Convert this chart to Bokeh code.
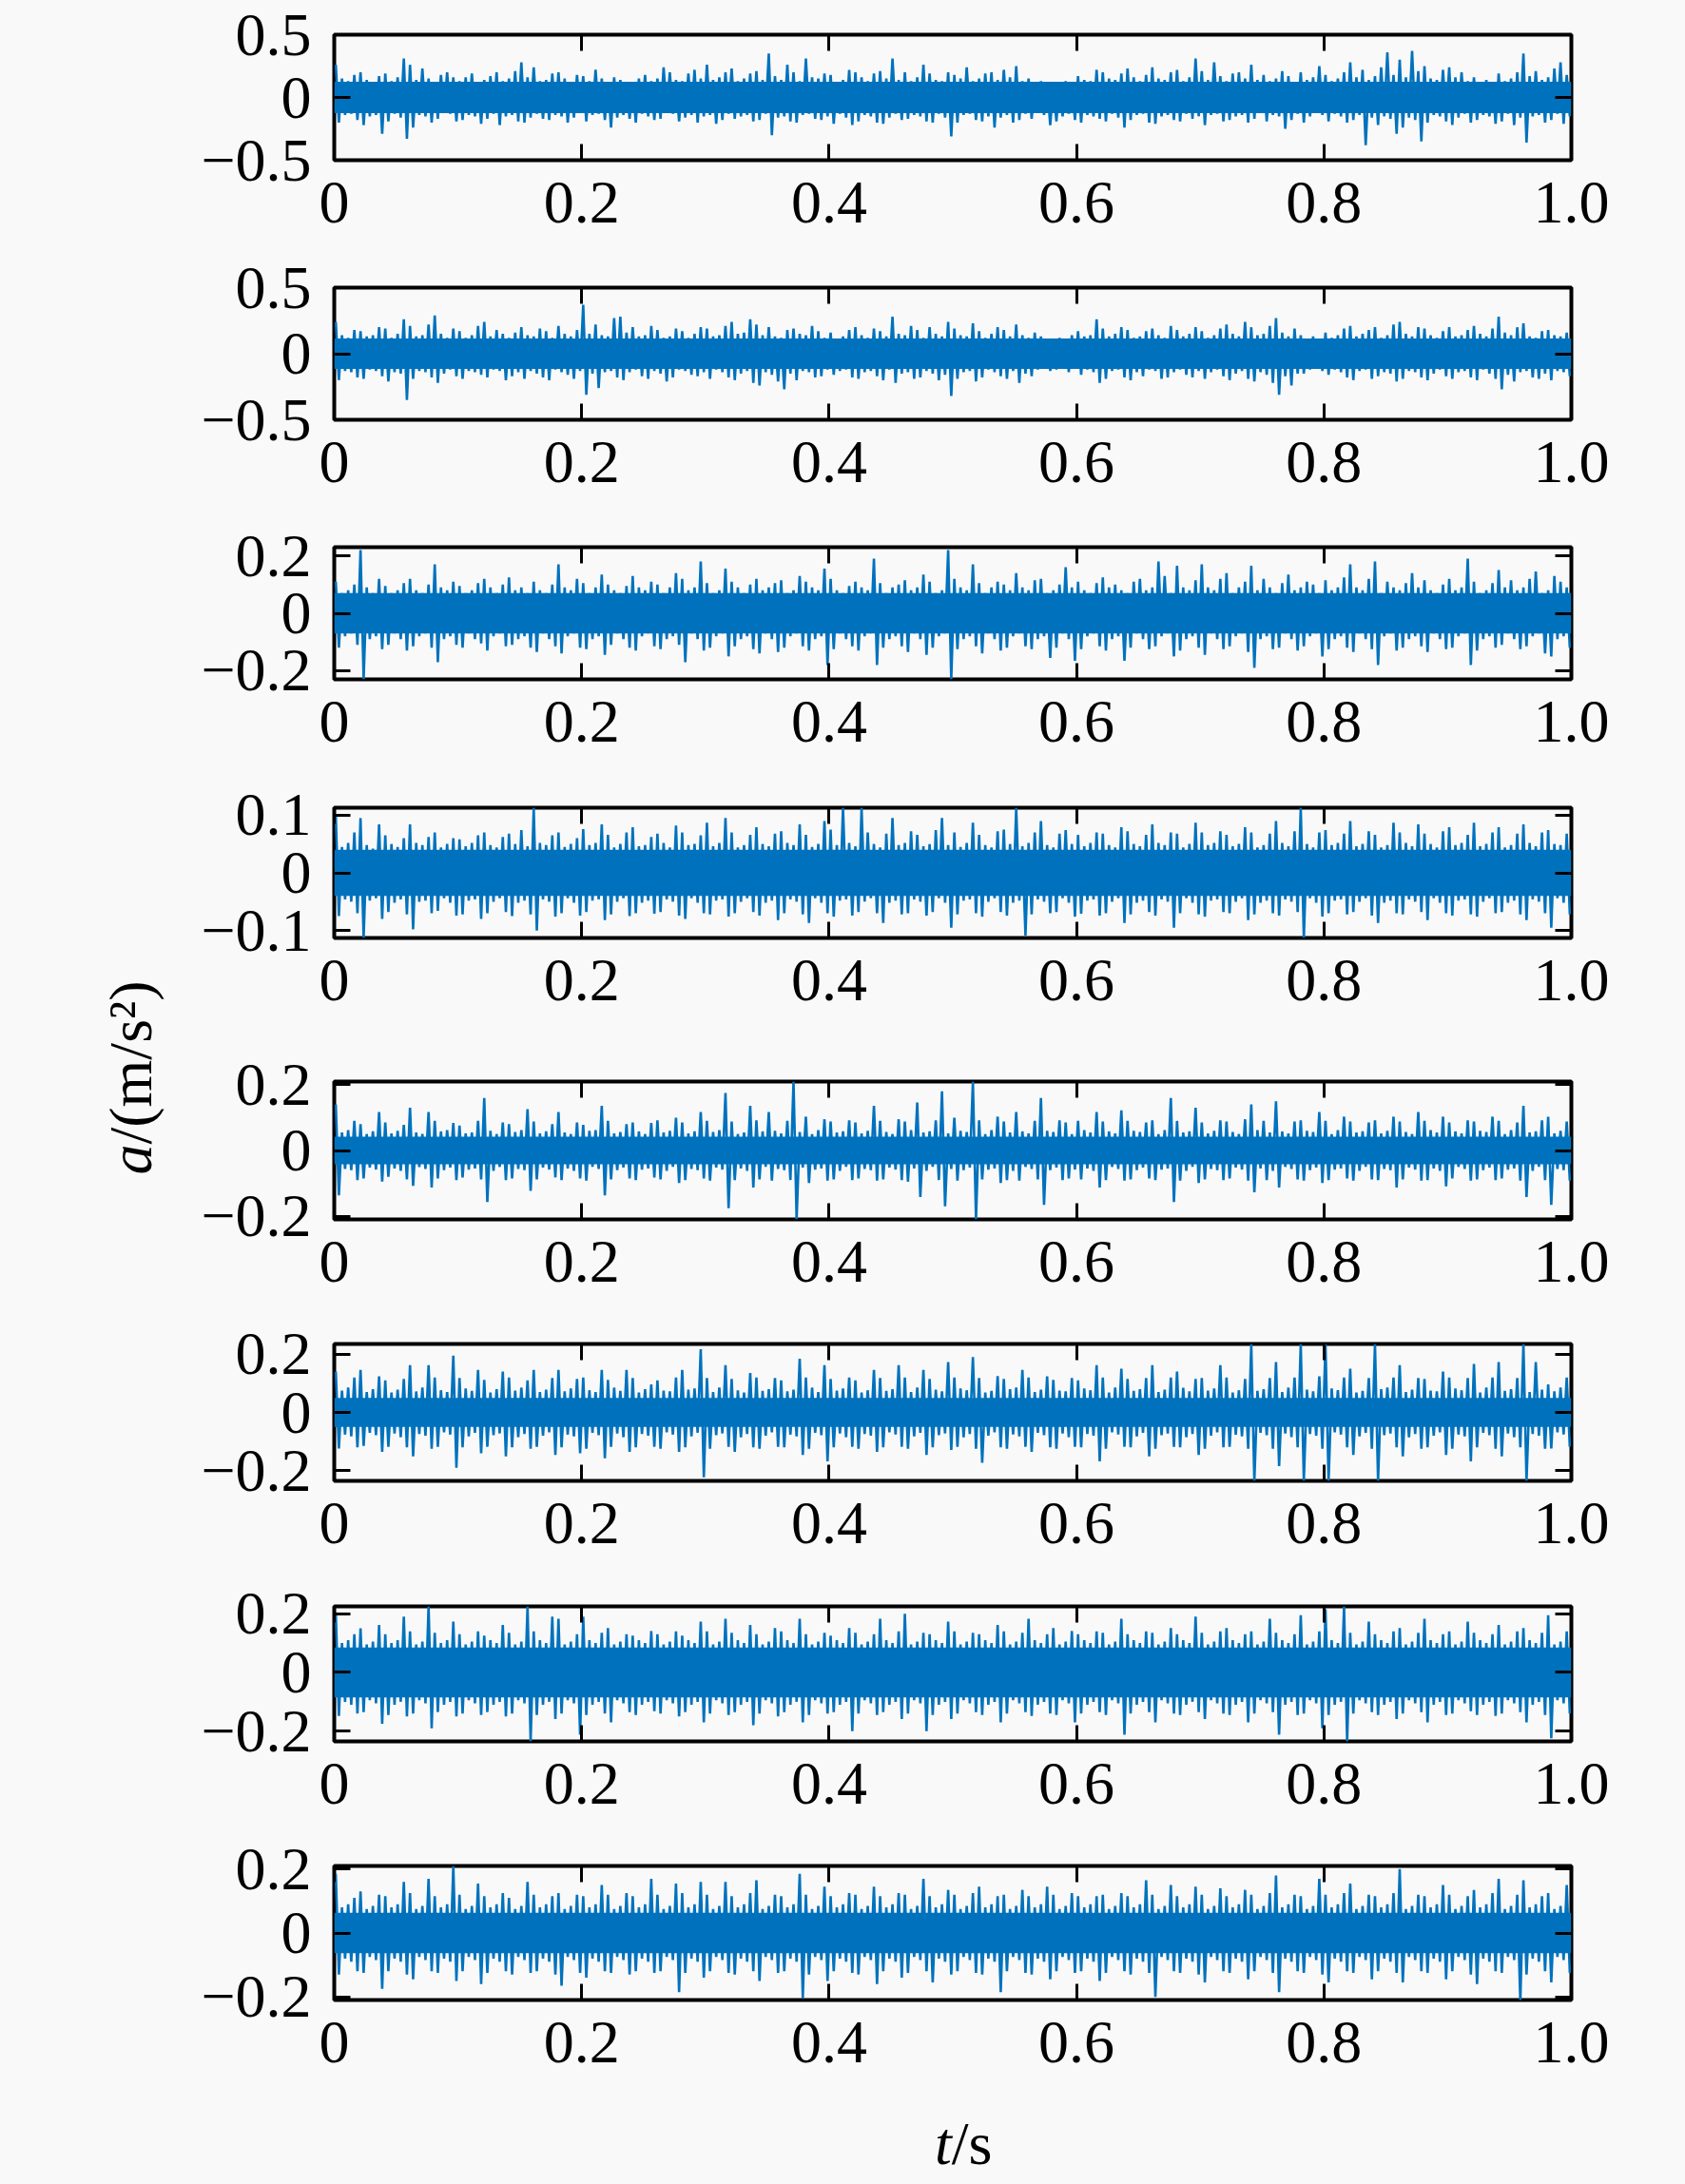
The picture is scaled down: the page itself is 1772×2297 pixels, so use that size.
import numpy as np
from bokeh.plotting import figure
from bokeh.layouts import row, column
from bokeh.models import Range1d, FixedTicker, LinearAxis, CustomJSTickFormatter
from bokeh.core.properties import value
from bokeh.embed import file_html
from bokeh.resources import INLINE

# ---------------- data ----------------
# Each signal: per-bin maximum (hi) and minimum (lo) over 200 bins of 0.005 s,
# plus the half-width of the dense, solid central band (core).
x_ticks = [0, 0.2, 0.4, 0.6, 0.8, 1.0]

hi1 = [0.26, 0.15, 0.13, 0.18, 0.20, 0.14, 0.12, 0.17, 0.19, 0.13,
       0.16, 0.31, 0.26, 0.14, 0.23, 0.15, 0.12, 0.18, 0.20, 0.16,
       0.13, 0.16, 0.19, 0.12, 0.14, 0.17, 0.20, 0.13, 0.15, 0.21,
       0.28, 0.16, 0.24, 0.13, 0.14, 0.19, 0.20, 0.15, 0.12, 0.18,
       0.17, 0.13, 0.22, 0.15, 0.12, 0.16, 0.14, 0.12, 0.11, 0.15,
       0.18, 0.13, 0.15, 0.24, 0.20, 0.14, 0.13, 0.19, 0.22, 0.15,
       0.26, 0.14, 0.16, 0.20, 0.23, 0.13, 0.15, 0.19, 0.21, 0.14,
       0.35, 0.17, 0.14, 0.26, 0.20, 0.13, 0.31, 0.16, 0.15, 0.19,
       0.18, 0.12, 0.14, 0.22, 0.20, 0.16, 0.13, 0.19, 0.21, 0.15,
       0.31, 0.14, 0.20, 0.13, 0.16, 0.26, 0.19, 0.14, 0.13, 0.20,
       0.18, 0.15, 0.24, 0.13, 0.15, 0.19, 0.20, 0.14, 0.22, 0.16,
       0.25, 0.13, 0.15, 0.11, 0.13, 0.11, 0.10, 0.12, 0.13, 0.11,
       0.17, 0.14, 0.13, 0.22, 0.20, 0.15, 0.14, 0.19, 0.23, 0.16,
       0.13, 0.18, 0.24, 0.15, 0.14, 0.20, 0.22, 0.13, 0.16, 0.31,
       0.21, 0.14, 0.28, 0.17, 0.13, 0.19, 0.20, 0.15, 0.26, 0.14,
       0.18, 0.13, 0.15, 0.21, 0.17, 0.12, 0.20, 0.14, 0.16, 0.25,
       0.18, 0.13, 0.15, 0.20, 0.28, 0.16, 0.22, 0.14, 0.17, 0.24,
       0.36, 0.18, 0.30, 0.16, 0.37, 0.21, 0.25, 0.15, 0.14, 0.22,
       0.24, 0.16, 0.20, 0.13, 0.16, 0.12, 0.14, 0.11, 0.19, 0.13,
       0.15, 0.20, 0.35, 0.17, 0.21, 0.14, 0.16, 0.23, 0.28, 0.18]
lo1 = [-0.20, -0.14, -0.13, -0.18, -0.22, -0.15, -0.14, -0.29, -0.19, -0.13,
       -0.16, -0.33, -0.24, -0.14, -0.15, -0.20, -0.17, -0.12, -0.13, -0.19,
       -0.18, -0.14, -0.15, -0.21, -0.17, -0.13, -0.22, -0.15, -0.14, -0.19,
       -0.20, -0.16, -0.13, -0.17, -0.18, -0.14, -0.15, -0.20, -0.16, -0.12,
       -0.19, -0.14, -0.13, -0.18, -0.24, -0.16, -0.14, -0.17, -0.20, -0.13,
       -0.15, -0.18, -0.17, -0.12, -0.13, -0.19, -0.16, -0.14, -0.20, -0.15,
       -0.14, -0.21, -0.18, -0.13, -0.17, -0.15, -0.14, -0.19, -0.18, -0.13,
       -0.30, -0.16, -0.15, -0.19, -0.20, -0.14, -0.13, -0.17, -0.18, -0.15,
       -0.21, -0.13, -0.16, -0.22, -0.19, -0.14, -0.15, -0.20, -0.21, -0.16,
       -0.13, -0.18, -0.17, -0.14, -0.15, -0.19, -0.20, -0.13, -0.16, -0.31,
       -0.20, -0.14, -0.13, -0.18, -0.19, -0.15, -0.24, -0.16, -0.14, -0.20,
       -0.18, -0.13, -0.17, -0.12, -0.14, -0.22, -0.19, -0.15, -0.13, -0.18,
       -0.20, -0.14, -0.15, -0.17, -0.19, -0.13, -0.16, -0.24, -0.18, -0.14,
       -0.13, -0.20, -0.21, -0.15, -0.14, -0.18, -0.19, -0.13, -0.17, -0.15,
       -0.22, -0.14, -0.13, -0.19, -0.18, -0.15, -0.14, -0.20, -0.17, -0.12,
       -0.19, -0.14, -0.15, -0.25, -0.18, -0.13, -0.20, -0.15, -0.12, -0.14,
       -0.19, -0.13, -0.15, -0.20, -0.18, -0.14, -0.38, -0.16, -0.22, -0.15,
       -0.17, -0.29, -0.24, -0.16, -0.18, -0.35, -0.20, -0.14, -0.15, -0.19,
       -0.22, -0.16, -0.13, -0.20, -0.18, -0.14, -0.15, -0.21, -0.19, -0.13,
       -0.22, -0.16, -0.36, -0.15, -0.14, -0.20, -0.18, -0.13, -0.21, -0.15]

hi2 = [0.24, 0.14, 0.12, 0.18, 0.17, 0.13, 0.14, 0.20, 0.19, 0.12,
       0.15, 0.26, 0.21, 0.13, 0.14, 0.22, 0.29, 0.15, 0.12, 0.19,
       0.17, 0.12, 0.14, 0.21, 0.24, 0.13, 0.18, 0.15, 0.12, 0.16,
       0.20, 0.14, 0.13, 0.19, 0.17, 0.12, 0.21, 0.15, 0.13, 0.18,
       0.37, 0.15, 0.22, 0.14, 0.13, 0.27, 0.28, 0.16, 0.20, 0.13,
       0.14, 0.21, 0.18, 0.12, 0.13, 0.19, 0.17, 0.12, 0.15, 0.20,
       0.19, 0.13, 0.14, 0.21, 0.24, 0.15, 0.16, 0.26, 0.22, 0.14,
       0.20, 0.13, 0.12, 0.18, 0.19, 0.15, 0.14, 0.21, 0.17, 0.12,
       0.16, 0.11, 0.13, 0.18, 0.20, 0.14, 0.12, 0.19, 0.17, 0.13,
       0.28, 0.15, 0.14, 0.21, 0.18, 0.12, 0.20, 0.15, 0.13, 0.24,
       0.19, 0.14, 0.13, 0.23, 0.17, 0.12, 0.15, 0.20, 0.18, 0.13,
       0.22, 0.14, 0.12, 0.16, 0.13, 0.11, 0.10, 0.12, 0.11, 0.14,
       0.17, 0.13, 0.14, 0.26, 0.19, 0.13, 0.15, 0.20, 0.18, 0.12,
       0.13, 0.17, 0.19, 0.14, 0.12, 0.21, 0.18, 0.13, 0.15, 0.20,
       0.17, 0.12, 0.14, 0.19, 0.22, 0.15, 0.13, 0.24, 0.20, 0.14,
       0.15, 0.21, 0.27, 0.16, 0.13, 0.19, 0.14, 0.11, 0.13, 0.10,
       0.16, 0.12, 0.14, 0.19, 0.21, 0.13, 0.15, 0.18, 0.20, 0.12,
       0.14, 0.22, 0.24, 0.15, 0.13, 0.20, 0.19, 0.14, 0.12, 0.17,
       0.20, 0.13, 0.14, 0.18, 0.21, 0.15, 0.13, 0.19, 0.28, 0.16,
       0.14, 0.20, 0.23, 0.13, 0.12, 0.17, 0.18, 0.14, 0.13, 0.16]
lo2 = [-0.20, -0.13, -0.14, -0.18, -0.19, -0.12, -0.13, -0.17, -0.21, -0.14,
       -0.15, -0.35, -0.19, -0.13, -0.14, -0.18, -0.22, -0.15, -0.12, -0.17,
       -0.19, -0.13, -0.14, -0.16, -0.18, -0.12, -0.13, -0.20, -0.17, -0.14,
       -0.19, -0.13, -0.15, -0.18, -0.20, -0.12, -0.14, -0.16, -0.19, -0.13,
       -0.31, -0.15, -0.26, -0.14, -0.13, -0.18, -0.20, -0.14, -0.12, -0.17,
       -0.19, -0.13, -0.15, -0.21, -0.18, -0.12, -0.13, -0.16, -0.17, -0.14,
       -0.19, -0.12, -0.14, -0.18, -0.20, -0.15, -0.13, -0.22, -0.24, -0.14,
       -0.16, -0.21, -0.27, -0.15, -0.20, -0.13, -0.14, -0.18, -0.17, -0.12,
       -0.16, -0.13, -0.12, -0.18, -0.19, -0.14, -0.13, -0.17, -0.20, -0.12,
       -0.22, -0.15, -0.14, -0.19, -0.18, -0.13, -0.15, -0.20, -0.16, -0.32,
       -0.19, -0.14, -0.13, -0.21, -0.18, -0.12, -0.14, -0.17, -0.19, -0.13,
       -0.22, -0.15, -0.17, -0.12, -0.11, -0.13, -0.12, -0.10, -0.14, -0.11,
       -0.16, -0.12, -0.14, -0.22, -0.19, -0.13, -0.12, -0.18, -0.20, -0.14,
       -0.17, -0.12, -0.13, -0.19, -0.18, -0.14, -0.12, -0.16, -0.18, -0.13,
       -0.19, -0.14, -0.12, -0.17, -0.20, -0.15, -0.13, -0.19, -0.21, -0.14,
       -0.16, -0.22, -0.31, -0.17, -0.24, -0.15, -0.15, -0.12, -0.11, -0.13,
       -0.16, -0.12, -0.14, -0.18, -0.20, -0.13, -0.12, -0.19, -0.17, -0.14,
       -0.15, -0.21, -0.19, -0.13, -0.14, -0.18, -0.20, -0.15, -0.12, -0.17,
       -0.19, -0.14, -0.13, -0.18, -0.20, -0.12, -0.15, -0.19, -0.27, -0.16,
       -0.21, -0.14, -0.13, -0.18, -0.19, -0.15, -0.20, -0.13, -0.14, -0.17]

hi3 = [0.11, 0.07, 0.08, 0.10, 0.22, 0.09, 0.07, 0.12, 0.095, 0.07,
       0.08, 0.105, 0.12, 0.08, 0.07, 0.10, 0.17, 0.09, 0.08, 0.11,
       0.095, 0.07, 0.08, 0.105, 0.12, 0.09, 0.07, 0.10, 0.125, 0.08,
       0.09, 0.07, 0.11, 0.08, 0.07, 0.10, 0.17, 0.09, 0.08, 0.12,
       0.105, 0.07, 0.09, 0.135, 0.10, 0.08, 0.07, 0.095, 0.13, 0.09,
       0.08, 0.11, 0.10, 0.07, 0.09, 0.14, 0.12, 0.08, 0.09, 0.18,
       0.105, 0.07, 0.08, 0.155, 0.11, 0.09, 0.07, 0.10, 0.12, 0.08,
       0.09, 0.105, 0.115, 0.07, 0.08, 0.13, 0.11, 0.09, 0.08, 0.155,
       0.12, 0.08, 0.07, 0.095, 0.11, 0.09, 0.08, 0.19, 0.105, 0.07,
       0.09, 0.10, 0.115, 0.08, 0.09, 0.135, 0.11, 0.07, 0.08, 0.22,
       0.12, 0.09, 0.08, 0.17, 0.105, 0.07, 0.09, 0.11, 0.10, 0.08,
       0.14, 0.09, 0.08, 0.115, 0.12, 0.07, 0.08, 0.10, 0.16, 0.09,
       0.11, 0.08, 0.07, 0.105, 0.125, 0.09, 0.10, 0.08, 0.07, 0.11,
       0.12, 0.08, 0.09, 0.18, 0.13, 0.07, 0.165, 0.09, 0.08, 0.115,
       0.17, 0.09, 0.08, 0.12, 0.14, 0.07, 0.09, 0.11, 0.165, 0.08,
       0.12, 0.09, 0.07, 0.105, 0.135, 0.08, 0.09, 0.11, 0.10, 0.07,
       0.115, 0.08, 0.09, 0.125, 0.17, 0.09, 0.08, 0.12, 0.18, 0.07,
       0.11, 0.09, 0.08, 0.105, 0.14, 0.09, 0.115, 0.08, 0.07, 0.10,
       0.12, 0.08, 0.09, 0.19, 0.11, 0.07, 0.08, 0.105, 0.15, 0.09,
       0.115, 0.08, 0.09, 0.12, 0.145, 0.07, 0.08, 0.13, 0.11, 0.09]
lo3 = [-0.12, -0.08, -0.07, -0.11, -0.23, -0.09, -0.08, -0.125, -0.11, -0.07,
       -0.09, -0.13, -0.115, -0.08, -0.07, -0.12, -0.17, -0.09, -0.08, -0.11,
       -0.12, -0.07, -0.09, -0.105, -0.13, -0.08, -0.07, -0.115, -0.11, -0.09,
       -0.08, -0.12, -0.135, -0.07, -0.09, -0.115, -0.14, -0.08, -0.07, -0.12,
       -0.125, -0.09, -0.08, -0.145, -0.11, -0.07, -0.09, -0.12, -0.13, -0.08,
       -0.07, -0.115, -0.125, -0.09, -0.08, -0.11, -0.17, -0.07, -0.09, -0.13,
       -0.12, -0.08, -0.07, -0.15, -0.115, -0.09, -0.08, -0.125, -0.14, -0.07,
       -0.09, -0.135, -0.12, -0.08, -0.07, -0.115, -0.13, -0.09, -0.08, -0.18,
       -0.125, -0.07, -0.09, -0.115, -0.13, -0.08, -0.07, -0.18, -0.12, -0.09,
       -0.08, -0.115, -0.135, -0.07, -0.09, -0.145, -0.12, -0.08, -0.07, -0.23,
       -0.125, -0.09, -0.08, -0.115, -0.14, -0.07, -0.09, -0.13, -0.12, -0.08,
       -0.07, -0.115, -0.125, -0.09, -0.08, -0.155, -0.12, -0.07, -0.09, -0.165,
       -0.125, -0.08, -0.07, -0.115, -0.13, -0.09, -0.08, -0.165, -0.12, -0.07,
       -0.09, -0.125, -0.115, -0.08, -0.07, -0.15, -0.13, -0.09, -0.08, -0.12,
       -0.145, -0.07, -0.09, -0.125, -0.115, -0.08, -0.07, -0.135, -0.19, -0.09,
       -0.08, -0.125, -0.12, -0.07, -0.09, -0.13, -0.115, -0.08, -0.07, -0.15,
       -0.125, -0.09, -0.08, -0.12, -0.135, -0.07, -0.09, -0.125, -0.18, -0.08,
       -0.07, -0.13, -0.12, -0.09, -0.08, -0.115, -0.135, -0.07, -0.09, -0.125,
       -0.12, -0.08, -0.07, -0.18, -0.13, -0.09, -0.08, -0.12, -0.11, -0.07,
       -0.09, -0.125, -0.115, -0.08, -0.07, -0.14, -0.15, -0.09, -0.08, -0.12]

hi4 = [0.100, 0.045, 0.052, 0.070, 0.095, 0.048, 0.042, 0.084, 0.065, 0.050,
       0.045, 0.060, 0.084, 0.052, 0.048, 0.062, 0.070, 0.044, 0.050, 0.060,
       0.058, 0.046, 0.052, 0.065, 0.070, 0.048, 0.044, 0.062, 0.068, 0.050,
       0.074, 0.046, 0.113, 0.052, 0.048, 0.065, 0.070, 0.045, 0.050, 0.060,
       0.076, 0.048, 0.052, 0.084, 0.066, 0.044, 0.050, 0.070, 0.079, 0.046,
       0.048, 0.062, 0.068, 0.052, 0.044, 0.082, 0.070, 0.048, 0.050, 0.065,
       0.087, 0.046, 0.052, 0.095, 0.070, 0.044, 0.048, 0.066, 0.079, 0.050,
       0.046, 0.068, 0.072, 0.052, 0.048, 0.084, 0.066, 0.045, 0.050, 0.090,
       0.075, 0.048, 0.113, 0.052, 0.046, 0.113, 0.070, 0.050, 0.044, 0.068,
       0.095, 0.048, 0.052, 0.072, 0.066, 0.046, 0.050, 0.074, 0.095, 0.048,
       0.070, 0.045, 0.052, 0.087, 0.066, 0.048, 0.044, 0.072, 0.075, 0.050,
       0.113, 0.046, 0.052, 0.070, 0.090, 0.048, 0.044, 0.068, 0.074, 0.050,
       0.066, 0.046, 0.052, 0.070, 0.068, 0.048, 0.044, 0.079, 0.072, 0.050,
       0.046, 0.066, 0.084, 0.052, 0.048, 0.070, 0.068, 0.044, 0.050, 0.087,
       0.070, 0.048, 0.052, 0.072, 0.066, 0.046, 0.050, 0.079, 0.070, 0.044,
       0.048, 0.068, 0.090, 0.052, 0.046, 0.072, 0.113, 0.050, 0.044, 0.070,
       0.074, 0.048, 0.052, 0.068, 0.090, 0.046, 0.050, 0.072, 0.066, 0.044,
       0.048, 0.087, 0.070, 0.052, 0.046, 0.084, 0.068, 0.050, 0.044, 0.072,
       0.079, 0.048, 0.052, 0.066, 0.087, 0.046, 0.050, 0.070, 0.079, 0.044,
       0.048, 0.068, 0.084, 0.052, 0.046, 0.070, 0.074, 0.050, 0.048, 0.068]
lo4 = [-0.075, -0.046, -0.050, -0.070, -0.113, -0.048, -0.044, -0.080, -0.068, -0.052,
       -0.046, -0.072, -0.098, -0.050, -0.048, -0.070, -0.066, -0.044, -0.052, -0.074,
       -0.072, -0.048, -0.046, -0.080, -0.070, -0.050, -0.044, -0.068, -0.075, -0.052,
       -0.048, -0.072, -0.100, -0.046, -0.050, -0.076, -0.070, -0.044, -0.052, -0.074,
       -0.068, -0.048, -0.046, -0.082, -0.072, -0.050, -0.044, -0.075, -0.070, -0.052,
       -0.048, -0.071, -0.068, -0.046, -0.050, -0.074, -0.080, -0.044, -0.052, -0.070,
       -0.072, -0.048, -0.046, -0.076, -0.070, -0.050, -0.044, -0.068, -0.074, -0.052,
       -0.048, -0.082, -0.070, -0.046, -0.050, -0.072, -0.087, -0.044, -0.052, -0.070,
       -0.076, -0.048, -0.046, -0.074, -0.068, -0.050, -0.044, -0.070, -0.087, -0.052,
       -0.048, -0.072, -0.070, -0.046, -0.050, -0.074, -0.068, -0.044, -0.052, -0.095,
       -0.072, -0.048, -0.046, -0.070, -0.076, -0.050, -0.044, -0.068, -0.074, -0.052,
       -0.048, -0.109, -0.072, -0.046, -0.050, -0.070, -0.068, -0.044, -0.052, -0.076,
       -0.071, -0.048, -0.046, -0.074, -0.070, -0.050, -0.044, -0.087, -0.072, -0.052,
       -0.048, -0.068, -0.074, -0.046, -0.050, -0.095, -0.070, -0.044, -0.052, -0.072,
       -0.076, -0.048, -0.046, -0.068, -0.070, -0.050, -0.044, -0.082, -0.072, -0.052,
       -0.048, -0.070, -0.074, -0.046, -0.050, -0.068, -0.113, -0.044, -0.052, -0.076,
       -0.070, -0.048, -0.046, -0.072, -0.068, -0.050, -0.044, -0.074, -0.087, -0.052,
       -0.048, -0.070, -0.072, -0.046, -0.050, -0.068, -0.082, -0.044, -0.052, -0.070,
       -0.074, -0.048, -0.046, -0.072, -0.076, -0.050, -0.044, -0.070, -0.068, -0.052,
       -0.048, -0.072, -0.082, -0.046, -0.050, -0.070, -0.095, -0.044, -0.052, -0.072]

hi5 = [0.140, 0.055, 0.062, 0.090, 0.080, 0.050, 0.058, 0.117, 0.085, 0.052,
       0.060, 0.078, 0.130, 0.055, 0.050, 0.117, 0.090, 0.058, 0.062, 0.084,
       0.076, 0.052, 0.055, 0.090, 0.160, 0.060, 0.050, 0.085, 0.080, 0.056,
       0.062, 0.126, 0.088, 0.052, 0.058, 0.080, 0.117, 0.055, 0.050, 0.085,
       0.078, 0.060, 0.062, 0.136, 0.090, 0.052, 0.056, 0.080, 0.085, 0.058,
       0.050, 0.084, 0.092, 0.055, 0.060, 0.100, 0.085, 0.052, 0.058, 0.117,
       0.090, 0.056, 0.062, 0.175, 0.088, 0.050, 0.055, 0.136, 0.092, 0.058,
       0.117, 0.060, 0.052, 0.090, 0.210, 0.056, 0.103, 0.050, 0.062, 0.095,
       0.088, 0.055, 0.058, 0.092, 0.085, 0.052, 0.060, 0.136, 0.090, 0.056,
       0.050, 0.095, 0.088, 0.062, 0.146, 0.055, 0.058, 0.092, 0.180, 0.052,
       0.100, 0.060, 0.056, 0.210, 0.092, 0.050, 0.062, 0.103, 0.088, 0.055,
       0.117, 0.058, 0.052, 0.090, 0.160, 0.060, 0.056, 0.092, 0.085, 0.050,
       0.090, 0.062, 0.055, 0.117, 0.088, 0.058, 0.052, 0.122, 0.090, 0.060,
       0.056, 0.085, 0.092, 0.050, 0.062, 0.160, 0.090, 0.055, 0.058, 0.130,
       0.085, 0.052, 0.060, 0.092, 0.088, 0.056, 0.050, 0.095, 0.140, 0.062,
       0.090, 0.055, 0.150, 0.058, 0.052, 0.088, 0.092, 0.060, 0.056, 0.117,
       0.090, 0.050, 0.062, 0.103, 0.088, 0.055, 0.058, 0.085, 0.092, 0.052,
       0.060, 0.103, 0.088, 0.056, 0.050, 0.117, 0.090, 0.062, 0.055, 0.103,
       0.085, 0.058, 0.052, 0.092, 0.088, 0.060, 0.056, 0.103, 0.090, 0.050,
       0.062, 0.085, 0.136, 0.055, 0.058, 0.092, 0.103, 0.052, 0.060, 0.088]
lo5 = [-0.137, -0.056, -0.060, -0.090, -0.085, -0.052, -0.058, -0.095, -0.080, -0.055,
       -0.062, -0.088, -0.108, -0.050, -0.056, -0.113, -0.085, -0.060, -0.052, -0.090,
       -0.082, -0.058, -0.055, -0.088, -0.157, -0.062, -0.050, -0.090, -0.085, -0.056,
       -0.060, -0.123, -0.088, -0.052, -0.058, -0.082, -0.090, -0.055, -0.062, -0.085,
       -0.092, -0.050, -0.056, -0.137, -0.088, -0.060, -0.052, -0.085, -0.090, -0.058,
       -0.055, -0.082, -0.088, -0.062, -0.050, -0.099, -0.090, -0.056, -0.060, -0.085,
       -0.092, -0.052, -0.058, -0.176, -0.090, -0.055, -0.062, -0.113, -0.088, -0.050,
       -0.092, -0.056, -0.060, -0.090, -0.210, -0.052, -0.099, -0.058, -0.055, -0.092,
       -0.088, -0.062, -0.050, -0.090, -0.085, -0.056, -0.060, -0.092, -0.088, -0.052,
       -0.058, -0.090, -0.095, -0.055, -0.142, -0.062, -0.050, -0.090, -0.170, -0.056,
       -0.092, -0.060, -0.052, -0.210, -0.088, -0.058, -0.055, -0.099, -0.090, -0.062,
       -0.092, -0.050, -0.056, -0.088, -0.166, -0.060, -0.052, -0.090, -0.085, -0.058,
       -0.088, -0.055, -0.062, -0.113, -0.090, -0.050, -0.056, -0.092, -0.088, -0.060,
       -0.052, -0.085, -0.090, -0.058, -0.055, -0.157, -0.092, -0.062, -0.050, -0.099,
       -0.088, -0.056, -0.060, -0.090, -0.085, -0.052, -0.058, -0.092, -0.127, -0.055,
       -0.090, -0.062, -0.113, -0.050, -0.056, -0.088, -0.092, -0.060, -0.052, -0.099,
       -0.090, -0.058, -0.055, -0.085, -0.092, -0.062, -0.050, -0.088, -0.090, -0.056,
       -0.060, -0.113, -0.088, -0.052, -0.058, -0.092, -0.090, -0.055, -0.062, -0.109,
       -0.085, -0.050, -0.056, -0.092, -0.088, -0.060, -0.052, -0.090, -0.085, -0.058,
       -0.055, -0.092, -0.142, -0.062, -0.050, -0.090, -0.166, -0.056, -0.060, -0.092]

hi6 = [0.140, 0.075, 0.085, 0.120, 0.146, 0.070, 0.080, 0.124, 0.110, 0.068,
       0.078, 0.115, 0.162, 0.072, 0.085, 0.162, 0.120, 0.076, 0.070, 0.195,
       0.118, 0.082, 0.074, 0.146, 0.112, 0.068, 0.080, 0.140, 0.120, 0.075,
       0.085, 0.110, 0.146, 0.070, 0.078, 0.118, 0.146, 0.072, 0.082, 0.115,
       0.120, 0.076, 0.070, 0.146, 0.112, 0.085, 0.074, 0.146, 0.118, 0.068,
       0.080, 0.096, 0.110, 0.075, 0.072, 0.120, 0.146, 0.078, 0.082, 0.217,
       0.118, 0.070, 0.085, 0.162, 0.115, 0.076, 0.068, 0.135, 0.120, 0.074,
       0.080, 0.118, 0.110, 0.072, 0.078, 0.184, 0.120, 0.085, 0.070, 0.162,
       0.115, 0.075, 0.082, 0.120, 0.110, 0.068, 0.076, 0.146, 0.118, 0.074,
       0.080, 0.162, 0.120, 0.070, 0.085, 0.146, 0.115, 0.078, 0.072, 0.173,
       0.120, 0.082, 0.076, 0.190, 0.118, 0.068, 0.074, 0.125, 0.115, 0.080,
       0.085, 0.146, 0.120, 0.070, 0.078, 0.124, 0.112, 0.075, 0.072, 0.118,
       0.110, 0.082, 0.076, 0.162, 0.120, 0.068, 0.085, 0.150, 0.115, 0.074,
       0.080, 0.118, 0.162, 0.070, 0.078, 0.120, 0.140, 0.085, 0.072, 0.115,
       0.118, 0.075, 0.082, 0.162, 0.120, 0.068, 0.076, 0.115, 0.235, 0.074,
       0.080, 0.118, 0.173, 0.070, 0.085, 0.120, 0.235, 0.078, 0.072, 0.124,
       0.235, 0.082, 0.076, 0.120, 0.150, 0.068, 0.074, 0.118, 0.235, 0.080,
       0.085, 0.120, 0.162, 0.070, 0.078, 0.118, 0.115, 0.075, 0.072, 0.140,
       0.120, 0.082, 0.076, 0.118, 0.166, 0.068, 0.085, 0.120, 0.173, 0.074,
       0.080, 0.118, 0.235, 0.070, 0.173, 0.078, 0.096, 0.072, 0.085, 0.120]
lo6 = [-0.124, -0.076, -0.082, -0.120, -0.115, -0.070, -0.078, -0.135, -0.118, -0.072,
       -0.085, -0.120, -0.151, -0.074, -0.080, -0.125, -0.118, -0.068, -0.076, -0.190,
       -0.120, -0.082, -0.070, -0.140, -0.118, -0.078, -0.072, -0.151, -0.120, -0.085,
       -0.074, -0.125, -0.118, -0.080, -0.068, -0.146, -0.120, -0.076, -0.082, -0.140,
       -0.125, -0.070, -0.078, -0.157, -0.118, -0.072, -0.085, -0.135, -0.120, -0.074,
       -0.080, -0.118, -0.125, -0.068, -0.076, -0.135, -0.120, -0.082, -0.070, -0.223,
       -0.125, -0.078, -0.072, -0.118, -0.135, -0.085, -0.074, -0.120, -0.125, -0.080,
       -0.068, -0.118, -0.120, -0.076, -0.082, -0.146, -0.125, -0.070, -0.078, -0.168,
       -0.120, -0.072, -0.085, -0.118, -0.125, -0.074, -0.080, -0.135, -0.120, -0.068,
       -0.076, -0.118, -0.125, -0.082, -0.070, -0.146, -0.120, -0.078, -0.072, -0.129,
       -0.118, -0.085, -0.074, -0.125, -0.173, -0.080, -0.068, -0.120, -0.125, -0.076,
       -0.082, -0.118, -0.135, -0.070, -0.078, -0.120, -0.125, -0.072, -0.085, -0.118,
       -0.120, -0.074, -0.080, -0.168, -0.125, -0.068, -0.076, -0.118, -0.120, -0.082,
       -0.070, -0.151, -0.125, -0.078, -0.072, -0.118, -0.120, -0.085, -0.074, -0.146,
       -0.125, -0.080, -0.068, -0.120, -0.118, -0.076, -0.082, -0.125, -0.235, -0.070,
       -0.078, -0.125, -0.184, -0.072, -0.085, -0.120, -0.235, -0.074, -0.080, -0.125,
       -0.235, -0.068, -0.076, -0.120, -0.146, -0.082, -0.070, -0.125, -0.235, -0.078,
       -0.072, -0.120, -0.151, -0.085, -0.074, -0.125, -0.120, -0.080, -0.068, -0.146,
       -0.125, -0.076, -0.082, -0.168, -0.120, -0.070, -0.078, -0.125, -0.151, -0.072,
       -0.085, -0.120, -0.235, -0.074, -0.080, -0.125, -0.124, -0.068, -0.076, -0.118]

hi7 = [0.205, 0.100, 0.110, 0.130, 0.150, 0.095, 0.105, 0.162, 0.130, 0.100,
       0.110, 0.190, 0.140, 0.095, 0.105, 0.225, 0.135, 0.100, 0.110, 0.173,
       0.130, 0.095, 0.105, 0.140, 0.125, 0.110, 0.100, 0.162, 0.135, 0.095,
       0.105, 0.225, 0.140, 0.110, 0.100, 0.190, 0.183, 0.095, 0.105, 0.130,
       0.190, 0.110, 0.100, 0.135, 0.151, 0.095, 0.105, 0.130, 0.125, 0.110,
       0.100, 0.141, 0.130, 0.095, 0.105, 0.140, 0.125, 0.110, 0.100, 0.173,
       0.140, 0.095, 0.105, 0.183, 0.135, 0.110, 0.100, 0.162, 0.130, 0.095,
       0.105, 0.151, 0.140, 0.110, 0.100, 0.183, 0.130, 0.095, 0.105, 0.135,
       0.125, 0.110, 0.100, 0.151, 0.135, 0.095, 0.105, 0.130, 0.183, 0.110,
       0.100, 0.140, 0.200, 0.095, 0.105, 0.135, 0.130, 0.110, 0.100, 0.173,
       0.140, 0.095, 0.105, 0.135, 0.130, 0.110, 0.100, 0.162, 0.140, 0.095,
       0.105, 0.135, 0.183, 0.110, 0.100, 0.130, 0.151, 0.095, 0.105, 0.141,
       0.130, 0.110, 0.100, 0.140, 0.135, 0.095, 0.105, 0.183, 0.130, 0.110,
       0.100, 0.140, 0.135, 0.095, 0.105, 0.151, 0.130, 0.110, 0.100, 0.190,
       0.135, 0.095, 0.105, 0.140, 0.151, 0.110, 0.100, 0.130, 0.140, 0.095,
       0.105, 0.183, 0.135, 0.110, 0.100, 0.130, 0.195, 0.095, 0.105, 0.140,
       0.215, 0.110, 0.100, 0.225, 0.135, 0.095, 0.105, 0.173, 0.130, 0.110,
       0.100, 0.140, 0.151, 0.095, 0.105, 0.135, 0.183, 0.110, 0.100, 0.130,
       0.140, 0.095, 0.105, 0.173, 0.135, 0.110, 0.100, 0.130, 0.162, 0.095,
       0.105, 0.140, 0.151, 0.110, 0.100, 0.135, 0.195, 0.095, 0.105, 0.140]
lo7 = [-0.148, -0.100, -0.110, -0.140, -0.135, -0.095, -0.105, -0.175, -0.145, -0.110,
       -0.100, -0.150, -0.140, -0.095, -0.105, -0.190, -0.135, -0.110, -0.100, -0.150,
       -0.140, -0.095, -0.105, -0.145, -0.135, -0.110, -0.100, -0.150, -0.140, -0.095,
       -0.105, -0.235, -0.145, -0.110, -0.100, -0.159, -0.140, -0.095, -0.105, -0.212,
       -0.145, -0.110, -0.100, -0.140, -0.170, -0.095, -0.105, -0.135, -0.145, -0.110,
       -0.100, -0.132, -0.140, -0.095, -0.105, -0.150, -0.135, -0.110, -0.100, -0.170,
       -0.140, -0.095, -0.105, -0.145, -0.135, -0.110, -0.100, -0.180, -0.140, -0.095,
       -0.105, -0.150, -0.135, -0.110, -0.100, -0.170, -0.145, -0.095, -0.105, -0.140,
       -0.135, -0.110, -0.100, -0.200, -0.140, -0.095, -0.105, -0.145, -0.135, -0.110,
       -0.100, -0.159, -0.140, -0.095, -0.105, -0.200, -0.145, -0.110, -0.100, -0.159,
       -0.140, -0.095, -0.105, -0.135, -0.145, -0.110, -0.100, -0.170, -0.140, -0.095,
       -0.105, -0.135, -0.148, -0.110, -0.100, -0.140, -0.145, -0.095, -0.105, -0.170,
       -0.140, -0.110, -0.100, -0.135, -0.145, -0.095, -0.105, -0.212, -0.140, -0.110,
       -0.100, -0.135, -0.170, -0.095, -0.105, -0.140, -0.145, -0.110, -0.100, -0.135,
       -0.159, -0.095, -0.105, -0.140, -0.145, -0.110, -0.100, -0.170, -0.140, -0.095,
       -0.105, -0.135, -0.212, -0.110, -0.100, -0.145, -0.140, -0.095, -0.105, -0.190,
       -0.145, -0.110, -0.100, -0.235, -0.140, -0.095, -0.105, -0.135, -0.145, -0.110,
       -0.100, -0.159, -0.140, -0.095, -0.105, -0.135, -0.170, -0.110, -0.100, -0.145,
       -0.140, -0.095, -0.105, -0.132, -0.145, -0.110, -0.100, -0.148, -0.140, -0.095,
       -0.105, -0.135, -0.170, -0.110, -0.100, -0.145, -0.224, -0.095, -0.105, -0.140]

hi8 = [0.185, 0.080, 0.090, 0.110, 0.130, 0.075, 0.085, 0.120, 0.115, 0.080,
       0.090, 0.160, 0.125, 0.075, 0.085, 0.170, 0.115, 0.080, 0.090, 0.210,
       0.120, 0.075, 0.085, 0.155, 0.115, 0.080, 0.090, 0.125, 0.110, 0.075,
       0.085, 0.160, 0.120, 0.080, 0.090, 0.115, 0.125, 0.075, 0.085, 0.120,
       0.115, 0.080, 0.090, 0.150, 0.120, 0.075, 0.085, 0.125, 0.115, 0.080,
       0.090, 0.170, 0.120, 0.075, 0.085, 0.155, 0.125, 0.080, 0.090, 0.160,
       0.120, 0.075, 0.085, 0.160, 0.115, 0.080, 0.090, 0.125, 0.165, 0.075,
       0.085, 0.120, 0.115, 0.080, 0.090, 0.185, 0.120, 0.075, 0.085, 0.145,
       0.115, 0.080, 0.090, 0.125, 0.120, 0.075, 0.085, 0.145, 0.115, 0.080,
       0.090, 0.125, 0.120, 0.075, 0.085, 0.170, 0.115, 0.080, 0.090, 0.135,
       0.120, 0.075, 0.085, 0.125, 0.145, 0.080, 0.090, 0.115, 0.120, 0.075,
       0.085, 0.135, 0.115, 0.080, 0.090, 0.145, 0.120, 0.075, 0.085, 0.125,
       0.115, 0.080, 0.090, 0.115, 0.120, 0.075, 0.085, 0.125, 0.115, 0.080,
       0.090, 0.165, 0.120, 0.075, 0.085, 0.150, 0.115, 0.080, 0.090, 0.145,
       0.120, 0.075, 0.085, 0.140, 0.115, 0.080, 0.090, 0.135, 0.120, 0.075,
       0.085, 0.125, 0.180, 0.080, 0.090, 0.120, 0.115, 0.075, 0.085, 0.170,
       0.120, 0.080, 0.090, 0.125, 0.155, 0.075, 0.085, 0.120, 0.115, 0.080,
       0.090, 0.125, 0.200, 0.075, 0.085, 0.120, 0.115, 0.080, 0.090, 0.150,
       0.120, 0.075, 0.085, 0.115, 0.135, 0.080, 0.090, 0.125, 0.170, 0.075,
       0.085, 0.120, 0.165, 0.080, 0.090, 0.115, 0.125, 0.075, 0.085, 0.150]
lo8 = [-0.130, -0.080, -0.090, -0.120, -0.125, -0.075, -0.085, -0.175, -0.120, -0.080,
       -0.090, -0.130, -0.145, -0.075, -0.085, -0.120, -0.125, -0.080, -0.090, -0.150,
       -0.120, -0.075, -0.085, -0.160, -0.125, -0.080, -0.090, -0.120, -0.130, -0.075,
       -0.085, -0.125, -0.120, -0.080, -0.090, -0.130, -0.165, -0.075, -0.085, -0.125,
       -0.140, -0.080, -0.090, -0.120, -0.125, -0.075, -0.085, -0.130, -0.120, -0.080,
       -0.090, -0.125, -0.120, -0.075, -0.085, -0.185, -0.125, -0.080, -0.090, -0.140,
       -0.120, -0.075, -0.085, -0.125, -0.130, -0.080, -0.090, -0.120, -0.150, -0.075,
       -0.085, -0.125, -0.120, -0.080, -0.090, -0.205, -0.130, -0.075, -0.085, -0.150,
       -0.120, -0.080, -0.090, -0.125, -0.130, -0.075, -0.085, -0.160, -0.120, -0.080,
       -0.090, -0.140, -0.125, -0.075, -0.085, -0.120, -0.155, -0.080, -0.090, -0.130,
       -0.120, -0.075, -0.085, -0.125, -0.130, -0.080, -0.090, -0.185, -0.120, -0.075,
       -0.085, -0.125, -0.130, -0.080, -0.090, -0.145, -0.120, -0.075, -0.085, -0.125,
       -0.120, -0.080, -0.090, -0.150, -0.125, -0.075, -0.085, -0.120, -0.130, -0.080,
       -0.090, -0.125, -0.200, -0.075, -0.085, -0.120, -0.125, -0.080, -0.090, -0.130,
       -0.155, -0.075, -0.085, -0.120, -0.125, -0.080, -0.090, -0.145, -0.120, -0.075,
       -0.085, -0.125, -0.185, -0.080, -0.090, -0.120, -0.125, -0.075, -0.085, -0.130,
       -0.155, -0.080, -0.090, -0.120, -0.125, -0.075, -0.085, -0.145, -0.120, -0.080,
       -0.090, -0.125, -0.155, -0.075, -0.085, -0.120, -0.125, -0.080, -0.090, -0.145,
       -0.120, -0.075, -0.085, -0.130, -0.160, -0.080, -0.090, -0.120, -0.125, -0.075,
       -0.085, -0.215, -0.130, -0.080, -0.090, -0.120, -0.155, -0.075, -0.085, -0.125]

his = [hi1, hi2, hi3, hi4, hi5, hi6, hi7, hi8]
los = [lo1, lo2, lo3, lo4, lo5, lo6, lo7, lo8]
cores = [0.125, 0.115, 0.07, 0.04, 0.042, 0.05, 0.085, 0.063]
y_limits = [(-0.5, 0.5), (-0.5, 0.5), (-0.23, 0.23), (-0.113, 0.113),
            (-0.21, 0.21), (-0.235, 0.235), (-0.235, 0.225), (-0.21, 0.21)]
y_ticks = [[-0.5, 0, 0.5], [-0.5, 0, 0.5], [-0.2, 0, 0.2], [-0.1, 0, 0.1],
           [-0.2, 0, 0.2], [-0.2, 0, 0.2], [-0.2, 0, 0.2], [-0.2, 0, 0.2]]

# ---------------- layout / style ----------------
BG = "#f9f9f9"
BLUE = "#0072bd"
FONT = "Liberation Serif"
FS = "64px"
TOTAL_H = 2290
LAB_W = 188
BORDER_L, BORDER_R, BORDER_B = 163, 112, 95
FRAME_W = 1301
frame_tops = [36, 302, 575, 849, 1137, 1413, 1689, 1962]
frame_hs = [132, 139, 139, 137, 145, 144, 142, 141]
TICK_LEN = 17

x_fmt = CustomJSTickFormatter(code="return tick == 0 ? '0' : tick.toFixed(1);")
y_fmt = CustomJSTickFormatter(
    code="if (Math.abs(tick) < 1e-9) { return '0'; } return tick.toFixed(1).replace('-', '\u2212');")
blank = CustomJSTickFormatter(code="return '';")


def style_axis(ax, show_labels):
    ax.axis_line_color = None
    ax.major_tick_in = TICK_LEN
    ax.major_tick_out = 0
    ax.major_tick_line_width = 3
    ax.major_tick_line_color = "black"
    ax.minor_tick_line_color = None
    if show_labels:
        ax.major_label_text_font = FONT
        ax.major_label_text_font_size = FS
        ax.major_label_text_color = "black"
    else:
        ax.major_label_text_font_size = "0px"
        ax.major_label_standoff = 0


n_bins = len(hi1)
t_hi = (np.arange(n_bins) + 0.25) / n_bins
t_lo = (np.arange(n_bins) + 0.75) / n_bins

panels = []
start = 0
for i in range(8):
    top_border = frame_tops[i] - start
    lo_lim, hi_lim = y_limits[i]
    p = figure(frame_width=FRAME_W, frame_height=frame_hs[i],
               x_range=Range1d(0, 1), y_range=Range1d(lo_lim, hi_lim),
               min_border_left=BORDER_L, min_border_right=BORDER_R,
               min_border_top=top_border, min_border_bottom=BORDER_B,
               toolbar_location=None, output_backend="svg",
               background_fill_color=BG, border_fill_color=BG)
    p.xgrid.visible = False
    p.ygrid.visible = False
    p.outline_line_color = "black"
    p.outline_line_width = 4

    xt = FixedTicker(ticks=x_ticks)
    yt = FixedTicker(ticks=y_ticks[i])
    p.xaxis.ticker = xt
    p.xaxis.formatter = x_fmt
    p.xaxis.major_label_standoff = 23
    p.yaxis.ticker = yt
    p.yaxis.formatter = y_fmt
    p.yaxis.major_label_standoff = 24
    style_axis(p.xaxis[0], True)
    style_axis(p.yaxis[0], True)

    top_ax = LinearAxis(ticker=xt, formatter=blank)
    style_axis(top_ax, False)
    p.add_layout(top_ax, "above")
    right_ax = LinearAxis(ticker=yt, formatter=blank)
    style_axis(right_ax, False)
    p.add_layout(right_ax, "right")

    c = cores[i]
    p.varea(x=[0, 1], y1=[-c, -c], y2=[c, c], fill_color=BLUE)

    xs = np.empty(2 * n_bins)
    ys = np.empty(2 * n_bins)
    xs[0::2] = t_hi
    xs[1::2] = t_lo
    ys[0::2] = np.array(his[i])
    ys[1::2] = np.array(los[i])
    p.line(xs, ys, line_color=BLUE, line_width=2.6)

    panels.append(p)
    start = frame_tops[i] + frame_hs[i] + BORDER_B

# x-axis title below the last panel
XL_H = TOTAL_H - start
xl = figure(frame_width=FRAME_W, frame_height=XL_H,
            x_range=Range1d(0, 1), y_range=Range1d(0, XL_H),
            x_axis_type=None, y_axis_type=None,
            min_border_left=BORDER_L, min_border_right=BORDER_R,
            min_border_top=0, min_border_bottom=0,
            toolbar_location=None, output_backend="svg",
            background_fill_color=BG, border_fill_color=BG)
xl.xgrid.visible = False
xl.ygrid.visible = False
xl.outline_line_color = None
xl_y = XL_H - (2254 - start)
xl.text(x=[0.499], y=[xl_y], text=["t"], text_align="right", text_baseline="middle",
        text_font=value(FONT), text_font_style="italic", text_font_size=FS, text_color="black")
xl.text(x=[0.499], y=[xl_y], text=["/s"], text_align="left", text_baseline="middle",
        text_font=value(FONT), text_font_size=FS, text_color="black")

# y-axis title in a narrow column at the left
lab = figure(frame_width=LAB_W, frame_height=TOTAL_H,
             x_range=Range1d(0, LAB_W), y_range=Range1d(0, TOTAL_H),
             x_axis_type=None, y_axis_type=None,
             min_border_left=0, min_border_right=0, min_border_top=0, min_border_bottom=0,
             toolbar_location=None, output_backend="svg",
             background_fill_color=BG, border_fill_color=BG)
lab.xgrid.visible = False
lab.ygrid.visible = False
lab.outline_line_color = None
split_y = TOTAL_H - 1203
lab.text(x=[137], y=[split_y], text=["a"], angle=np.pi / 2, text_align="right", text_baseline="middle",
         text_font=value(FONT), text_font_style="italic", text_font_size=FS, text_color="black")
lab.text(x=[137], y=[split_y], text=["/(m/s\u00b2)"], angle=np.pi / 2, text_align="left",
         text_baseline="middle", text_font=value(FONT), text_font_size=FS, text_color="black")

layout = row(lab, column(*panels, xl, spacing=0), spacing=0)

html = file_html(layout, INLINE, title="signals")
html = html.replace("</head>", "<style>html, body { background: #f9f9f9; }</style></head>", 1)
open("out.html", "w").write(html)
